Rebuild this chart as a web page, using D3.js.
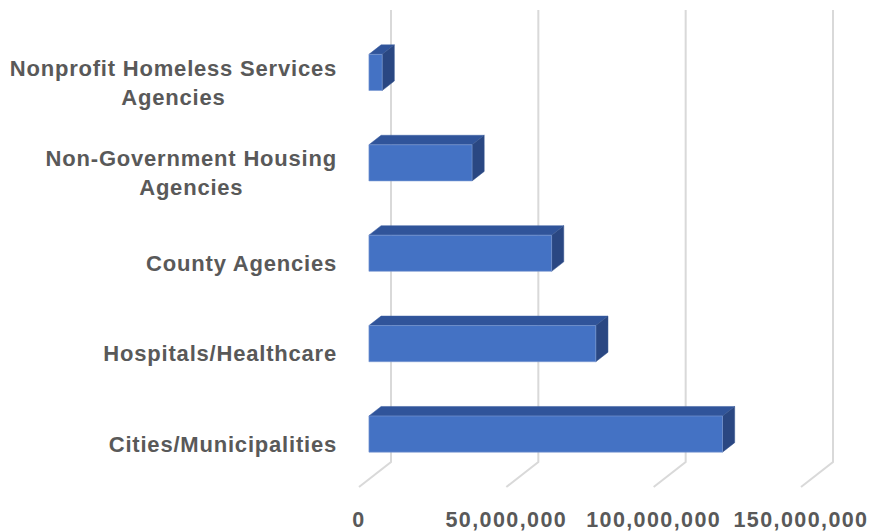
<!DOCTYPE html>
<html>
<head>
<meta charset="utf-8">
<script src="https://cdn.jsdelivr.net/npm/d3@7"></script>
<style>
  html, body { margin: 0; padding: 0; background: #ffffff; }
  svg { display: block; }
</style>
</head>
<body>
<svg id="chart" width="872" height="531"></svg>
<script>
// Funding by recipient type (top to bottom as drawn)
const categories = [
  "Nonprofit Homeless Services Agencies",
  "Non-Government Housing Agencies",
  "County Agencies",
  "Hospitals/Healthcare",
  "Cities/Municipalities"
];
const categoryLines = [
  ["Nonprofit Homeless Services", "Agencies"],
  ["Non-Government Housing", "Agencies"],
  ["County Agencies"],
  ["Hospitals/Healthcare"],
  ["Cities/Municipalities"]
];
const values = [4.5e6, 35e6, 62e6, 77e6, 120e6];
const tickValues = [0, 50e6, 100e6, 150e6];

const svg = d3.select("#chart");
const textColor = "#595959";
const gridColor = "#d9d9d9";

// Back wall of the 3D plot area
const wallTop = 10, wallBottom = 462;
const x = d3.scaleLinear().domain([0, 150e6]).range([391, 833]);
const y = d3.scaleBand().domain(categories).range([wallTop, wallBottom])
  .paddingInner(0.6).paddingOuter(0.3);

// Oblique depth: full floor depth shifts points left/down
const depthX = -32, depthY = 25;
const proj = (px, py, d) => [px + depthX * d, py + depthY * d];
const barFront = 0.69, barBack = 0.31;

// Gridlines: vertical on the wall, slanted across the floor
const grid = svg.append("g");
tickValues.forEach(v => {
  const gx = x(v);
  const [fx, fy] = proj(gx, wallBottom, 1);
  grid.append("path")
    .attr("d", `M${gx},${wallTop}L${gx},${wallBottom}L${fx},${fy}`)
    .attr("fill", "none")
    .attr("stroke", gridColor)
    .attr("stroke-width", 2);
});

// 3D bars
const bars = svg.append("g");
categories.forEach((c, i) => {
  const x0 = x(0), x1 = x(values[i]);
  const yt = y(c), yb = y(c) + y.bandwidth();
  const F = (px, py) => proj(px, py, barFront);
  const B = (px, py) => proj(px, py, barBack);
  const poly = pts => "M" + pts.map(p => p.join(",")).join("L") + "Z";
  const g = bars.append("g");
  // top face
  g.append("path")
    .attr("d", poly([F(x0, yt), B(x0, yt), B(x1, yt), F(x1, yt)]))
    .attr("fill", "#30549a").attr("stroke", "#3a5fa3").attr("stroke-width", 0.5);
  // end face
  g.append("path")
    .attr("d", poly([F(x1, yt), B(x1, yt), B(x1, yb), F(x1, yb)]))
    .attr("fill", "#2a4782").attr("stroke", "#34558f").attr("stroke-width", 0.5);
  // front face
  g.append("path")
    .attr("d", poly([F(x0, yt), F(x1, yt), F(x1, yb), F(x0, yb)]))
    .attr("fill", "#4472c4").attr("stroke", "#7e9bd2").attr("stroke-width", 0.6);
});

// Value axis labels along the front edge of the floor
const axisLabels = svg.append("g")
  .attr("font-family", "'Liberation Sans', Arial, sans-serif")
  .attr("font-weight", "bold")
  .attr("font-size", 21.5)
  .attr("fill", textColor);
tickValues.forEach(v => {
  const [fx] = proj(x(v), wallBottom, 1);
  axisLabels.append("text")
    .attr("x", fx)
    .attr("y", 527)
    .attr("text-anchor", "middle")
    .attr("letter-spacing", 1.4)
    .text(d3.format(",")(v));
});

// Category labels, right-aligned block with centred lines
const catLabels = svg.append("g")
  .attr("font-family", "'Liberation Sans', Arial, sans-serif")
  .attr("font-weight", "bold")
  .attr("font-size", 22)
  .attr("fill", textColor);
const rightEdge = 337, lineGap = 29;
categories.forEach((c, i) => {
  const lines = categoryLines[i];
  const [, cy] = proj(0, y(c) + y.bandwidth() / 2, 1);
  const g = catLabels.append("g");
  const texts = lines.map((ln, j) => g.append("text")
    .attr("letter-spacing", 0.8)
    .attr("text-anchor", "middle")
    .attr("y", cy + 10 + (j - (lines.length - 1) / 2) * lineGap)
    .text(ln));
  const maxW = d3.max(texts, t => t.node().getComputedTextLength());
  texts.forEach(t => t.attr("x", rightEdge - maxW / 2));
});
</script>
</body>
</html>
